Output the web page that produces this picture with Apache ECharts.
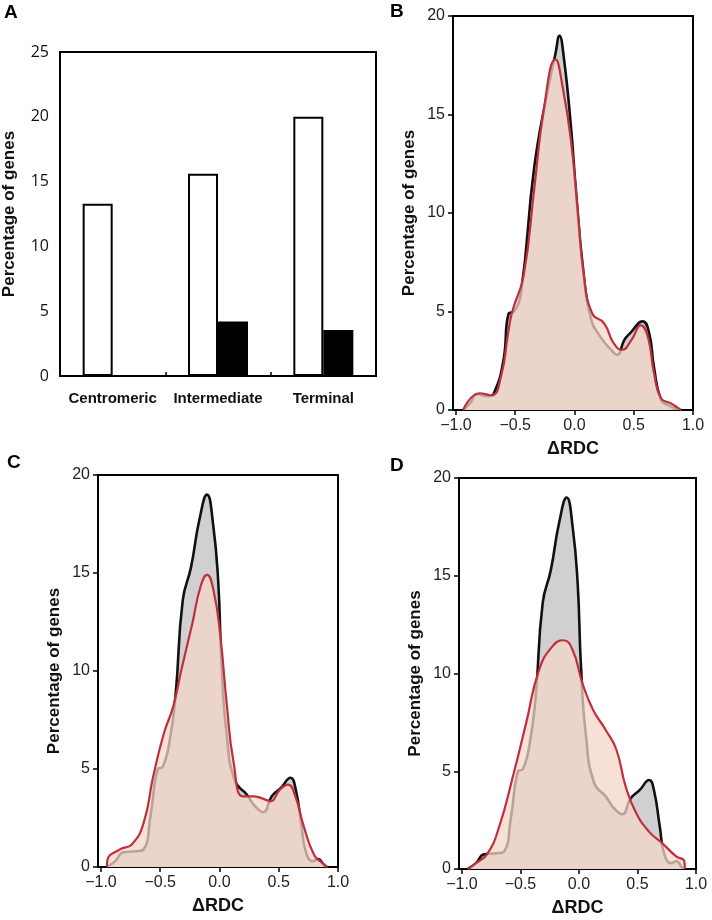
<!DOCTYPE html>
<html><head><meta charset="utf-8">
<script src="https://cdn.jsdelivr.net/npm/echarts@6/dist/echarts.min.js"></script>
<style>html,body{margin:0;padding:0;background:#fff}#c{width:712px;height:920px}</style>
</head><body><div id="c"></div><script>
// ---------- data ----------
const categories = ['Centromeric', 'Intermediate', 'Terminal'];
const whiteBars = [13.3, 15.6, 20.0];
const blackBars = [0, 4.2, 3.55];
const xTicks = [-1.0, -0.5, 0.0, 0.5, 1.0];

const blackB = [[-0.94,0],[-0.88,0.35],[-0.82,0.8],[-0.73,0.7],[-0.68,0.85],[-0.6,2.5],[-0.555,4.9],[-0.51,5.0],[-0.45,6.0],
  [-0.34,12.3],[-0.23,16.1],[-0.16,18.1],[-0.127,19.0],[-0.09,17.9],[-0.03,14.4],[0.01,11.3],[0.07,7.3],[0.14,4.6],
  [0.22,3.7],[0.31,3.05],[0.36,2.8],[0.42,3.55],[0.47,3.9],[0.575,4.5],[0.63,3.9],[0.67,2.2],[0.73,0.5],[0.79,0.25],[0.87,0.05]];
const redB = [[-0.94,0],[-0.8,0.85],[-0.7,0.75],[-0.62,1.7],[-0.56,3.9],[-0.525,5.0],[-0.43,6.8],[-0.34,11.2],[-0.26,15.2],
  [-0.16,17.8],[-0.1,16.4],[-0.03,13.7],[0.025,10.3],[0.08,6.8],[0.15,4.9],[0.25,4.4],[0.33,3.4],[0.4,3.05],[0.48,3.55],
  [0.56,4.3],[0.62,3.7],[0.67,1.9],[0.73,0.6],[0.81,0.35],[0.88,0.08],[0.9,0]];
const blackCD = [[-0.95,0],[-0.88,0.3],[-0.81,0.75],[-0.71,0.8],[-0.64,0.9],[-0.58,2.7],[-0.52,5.0],[-0.48,5.1],[-0.42,6.45],
  [-0.37,8.8],[-0.31,13.6],[-0.24,15.3],[-0.17,17.7],[-0.105,19.0],[-0.054,17.5],[-0.011,14.6],[0.017,10.4],[0.06,6.8],
  [0.13,4.4],[0.23,3.7],[0.3,3.1],[0.37,2.8],[0.44,3.6],[0.52,4.05],[0.6,4.55],[0.64,4.05],[0.69,2.2],[0.73,0.75],
  [0.79,0.3],[0.83,0.4],[0.885,0.05],[0.9,0]];
const redC = [[-0.95,0],[-0.946,0.35],[-0.84,0.9],[-0.74,1.15],[-0.64,2.25],[-0.56,4.6],[-0.47,6.8],[-0.39,8.2],[-0.32,10.1],
  [-0.23,12.4],[-0.16,14.3],[-0.105,14.9],[-0.05,14.1],[0.007,11.8],[0.06,8.4],[0.12,5.3],[0.2,3.6],[0.29,3.6],[0.36,3.5],
  [0.43,3.35],[0.51,3.95],[0.58,4.2],[0.64,3.6],[0.71,2.1],[0.8,0.6],[0.87,0.2],[0.91,0]];
const redD = [[-0.95,0],[-0.88,0.3],[-0.78,0.8],[-0.68,2.2],[-0.57,4.6],[-0.45,7.5],[-0.34,10.2],[-0.225,11.4],[-0.134,11.7],
  [-0.054,11.2],[0.03,9.5],[0.12,8.15],[0.23,7.1],[0.32,6.1],[0.4,4.2],[0.49,2.85],[0.6,1.9],[0.715,1.3],[0.83,0.65],
  [0.9,0.4],[0.905,0]];

// ---------- styles ----------
const FONT = 'Liberation Sans';
const RED = '#c0303c';
const GREYFILL = '#d0d0d3';
const REDFILL = 'rgba(244,215,200,0.745)';
const fmt = v => (v < 0 ? '\u2212' : '') + Math.abs(v).toFixed(1);

const grids = [
  {left: 60, top: 52, width: 316, height: 324},
  {left: 453, top: 16, width: 240, height: 394},
  {left: 98, top: 475, width: 240, height: 392},
  {left: 459, top: 478, width: 237, height: 391}
].map(g => Object.assign({show: true, borderColor: '#000', borderWidth: 2, backgroundColor: 'transparent'}, g));

const xAxes = [{
  gridIndex: 0, type: 'category', data: categories,
  axisLine: {show: true, lineStyle: {color: '#000', width: 2}},
  axisTick: {show: true, inside: true, length: 4, alignWithLabel: false, lineStyle: {color: '#000', width: 1.5}},
  axisLabel: {interval: 0, hideOverlap: false, margin: 15, fontFamily: FONT, fontWeight: 'bold', fontSize: 15, color: '#111'}
}];
const yAxes = [{
  gridIndex: 0, type: 'value', min: 0, max: 25, interval: 5,
  name: 'Percentage of genes', nameLocation: 'middle', nameGap: 42, nameRotate: 90,
  nameTextStyle: {fontFamily: FONT, fontWeight: 'bold', fontSize: 17, color: '#111'},
  axisLine: {show: true, onZero: false, lineStyle: {color: '#000', width: 2}},
  axisTick: {show: false}, splitLine: {show: false},
  axisLabel: {margin: 11, fontFamily: 'Open Sans', fontSize: 16, color: '#111'}
}];
[1, 2, 3].forEach(i => {
  xAxes.push({
    gridIndex: i, type: 'value', min: -1.025, max: 1.0,
    name: '\u0394RDC', nameLocation: 'middle', nameGap: 30,
    nameTextStyle: {fontFamily: FONT, fontWeight: 'bold', fontSize: 18, color: '#111', verticalAlign: 'top'},
    axisLine: {show: true, onZero: false, lineStyle: {color: '#000', width: 2}},
    axisTick: {show: true, length: 5, customValues: xTicks, lineStyle: {color: '#000', width: 1.5}},
    axisLabel: {margin: 8, customValues: xTicks, formatter: fmt, fontFamily: FONT, fontSize: 16, color: '#222'},
    splitLine: {show: false}
  });
  yAxes.push({
    gridIndex: i, type: 'value', min: 0, max: 20, interval: 5,
    name: 'Percentage of genes', nameLocation: 'middle', nameGap: 35, nameRotate: 90,
    nameTextStyle: {fontFamily: FONT, fontWeight: 'bold', fontSize: 17, color: '#111'},
    axisLine: {show: true, onZero: false, lineStyle: {color: '#000', width: 2}},
    axisTick: {show: true, length: 5, lineStyle: {color: '#000', width: 1.5}},
    axisLabel: {margin: 8, fontFamily: FONT, fontSize: 16, color: '#222'},
    splitLine: {show: false}
  });
});

function density(idx, data, isRed) {
  return {
    type: 'line', xAxisIndex: idx, yAxisIndex: idx, data: data,
    smooth: 0.5, showSymbol: false, silent: true,
    lineStyle: {color: isRed ? RED : '#111', width: isRed ? 2.2 : 2.6},
    areaStyle: {color: isRed ? REDFILL : GREYFILL, opacity: 1},
    z: isRed ? 3 : 2
  };
}

const series = [
  {type: 'bar', xAxisIndex: 0, yAxisIndex: 0, data: whiteBars, barWidth: 30, barGap: '0%',
   itemStyle: {color: '#fff', borderColor: '#000', borderWidth: 2}},
  {type: 'bar', xAxisIndex: 0, yAxisIndex: 0, data: blackBars, barWidth: 30, barGap: '0%',
   itemStyle: {color: '#000', borderColor: '#000', borderWidth: 0}},
  density(1, blackB, false), density(1, redB, true),
  density(2, blackCD, false), density(2, redC, true),
  density(3, blackCD, false), density(3, redD, true)
];

const letter = (t, x, y) => ({type: 'text', left: x, top: y,
  style: {text: t, fontFamily: FONT, fontWeight: 'bold', fontSize: 19, fill: '#000'}});

const chart = echarts.init(document.getElementById('c'), null, {renderer: 'canvas'});
chart.setOption({
  animation: false, backgroundColor: '#fff',
  grid: grids, xAxis: xAxes, yAxis: yAxes, series: series,
  graphic: [letter('A', 4, 3), letter('B', 390, 2), letter('C', 7, 453), letter('D', 390, 456)]
});
</script></body></html>
